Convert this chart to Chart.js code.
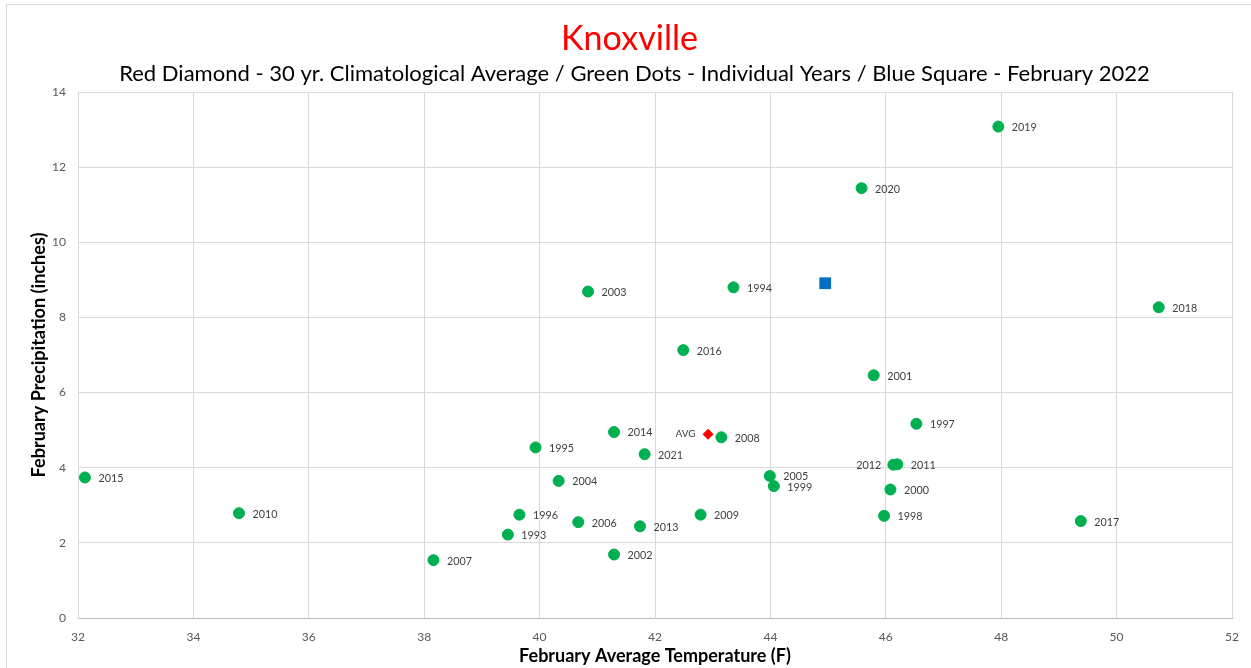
<!DOCTYPE html>
<html><head><meta charset="utf-8">
<script src="https://cdn.jsdelivr.net/npm/chart.js@4.4.1/dist/chart.umd.min.js"></script>
<style>html,body{margin:0;padding:0;background:#fff;}</style>
</head><body>
<canvas id="c" width="1251" height="668"></canvas>
<script>
// ---- data ----
const years  = ['2015','2010','2007','1993','1996','1995','2004','2006','2003','2014','2002','2013','2021','2016','2009','2008','1994','2005','1999','2020','2001','1998','2000','2012','2011','1997','2019','2017','2018'];
const temps  = [32.12,34.79,38.16,39.45,39.65,39.93,40.33,40.67,40.84,41.29,41.29,41.74,41.82,42.49,42.79,43.15,43.36,43.99,44.06,45.58,45.79,45.97,46.08,46.13,46.20,46.53,47.95,49.38,50.73];
const precip = [3.74,2.79,1.54,2.22,2.75,4.54,3.65,2.55,8.69,4.95,1.69,2.44,4.36,7.13,2.75,4.81,8.80,3.78,3.51,11.44,6.46,2.72,3.42,4.08,4.09,5.17,13.08,2.58,8.27];
const avgTemp = [42.92];
const avgPrecip = [4.89];
const avgLabel = ['AVG'];
const curTemp = [44.95];
const curPrecip = [8.91];
const xTickValues = [32,34,36,38,40,42,44,46,48,50,52];
const yTickValues = [0,2,4,6,8,10,12,14];
const titleText = 'Knoxville';
const subtitleText = 'Red Diamond - 30 yr. Climatological Average / Green Dots - Individual Years / Blue Square - February 2022';
const xTitle = 'February Average Temperature (F)';
const yTitle = 'February Precipitation (inches)';
const leftLabelYears = ['2012'];

// ---- font fitting ----
const FAMILY = 'Lato, "Open Sans", sans-serif';
const mctx = document.createElement('canvas').getContext('2d');
function fitSize(text, width, weight){ mctx.font = weight + ' 100px ' + FAMILY; return 100*width/mctx.measureText(text).width; }
const titleSize = fitSize(titleText, 137, 'normal');
const subSize = fitSize(subtitleText, 1031, 'normal');
const xTitleSize = fitSize(xTitle, 272, 'bold');
const yTitleSize = fitSize(yTitle, 245, 'bold');
const labelSize = fitSize('2015', 25, 'normal');
const avgSize = fitSize('AVG', 20, 'normal');
const tickSize = fitSize('32', 14, 'normal');

const yearPts = temps.map((t,i)=>({x:t, y:precip[i]}));
const avgPts = avgTemp.map((t,i)=>({x:t, y:avgPrecip[i]}));
const curPts = curTemp.map((t,i)=>({x:t, y:curPrecip[i]}));

const decor = {
  id:'decor',
  beforeDraw(chart){
    const ctx = chart.ctx;
    ctx.save();
    ctx.fillStyle='#fff'; ctx.fillRect(0,0,chart.width,chart.height);
    ctx.strokeStyle='#d9d9d9'; ctx.lineWidth=1;
    ctx.beginPath(); ctx.moveTo(6.5,668); ctx.lineTo(6.5,4.5); ctx.lineTo(1251,4.5); ctx.stroke();
    ctx.textAlign='center'; ctx.textBaseline='middle';
    ctx.fillStyle='#ff0000'; ctx.font = 'normal '+titleSize+'px '+FAMILY;
    ctx.fillText(titleText, 629.5, 39);
    ctx.fillStyle='#000000'; ctx.font = 'normal '+subSize+'px '+FAMILY;
    ctx.fillText(subtitleText, 634.5, 74);
    ctx.restore();
  },
  afterDatasetsDraw(chart){
    const ctx = chart.ctx;
    ctx.save();
    ctx.textBaseline='middle';
    ctx.fillStyle='#404040';
    ctx.font = 'normal '+labelSize+'px '+FAMILY;
    chart.getDatasetMeta(0).data.forEach((pt,i)=>{
      const lab = years[i];
      if (leftLabelYears.includes(lab)) { ctx.textAlign='right'; ctx.fillText(lab, pt.x-12, pt.y+1); }
      else { ctx.textAlign='left'; ctx.fillText(lab, pt.x+13.5, pt.y+1); }
    });
    ctx.font = 'normal '+avgSize+'px '+FAMILY;
    chart.getDatasetMeta(1).data.forEach((pt,i)=>{
      ctx.textAlign='right'; ctx.fillText(avgLabel[i], pt.x-12.5, pt.y);
    });
    ctx.restore();
  }
};

new Chart(document.getElementById('c'), {
  type:'scatter',
  data:{ datasets:[
    {label:'Individual Years', data:yearPts, pointStyle:'circle', pointRadius:5.5, pointHoverRadius:5.5, backgroundColor:'#00b050', borderColor:'#00b050', borderWidth:1},
    {label:'30 yr. Average', data:avgPts, pointStyle:'rectRot', pointRadius:5, pointHoverRadius:5, backgroundColor:'#ff0000', borderColor:'#ff0000', borderWidth:1},
    {label:'February 2022', data:curPts, pointStyle:'rect', pointRadius:8.3, pointHoverRadius:8.3, backgroundColor:'#0070c0', borderColor:'#0070c0', borderWidth:0}
  ]},
  options:{
    responsive:false, animation:false,
    layout:{padding:{left:0,right:15,top:92,bottom:0}},
    plugins:{legend:{display:false}, tooltip:{enabled:false}, title:{display:false}},
    scales:{
      x:{ type:'linear', min:32, max:52,
        afterBuildTicks(s){ s.ticks = xTickValues.map(v=>({value:v})); },
        afterFit(s){ s.height = 50; },
        grid:{color:'#d9d9d9', drawTicks:false},
        border:{color:'#bfbfbf'},
        ticks:{color:'#595959', font:{family:FAMILY, size:tickSize}, padding:12, maxRotation:0},
        title:{display:true, text:xTitle, color:'#000', font:{family:FAMILY, size:xTitleSize, weight:'bold'}, padding:{top:0,bottom:1}}
      },
      y:{ type:'linear', min:0, max:14,
        afterBuildTicks(s){ s.ticks = yTickValues.map(v=>({value:v})); },
        afterFit(s){ s.width = 78; },
        grid:{color:'#d9d9d9', drawTicks:false},
        border:{color:'#d9d9d9'},
        ticks:{color:'#595959', font:{family:FAMILY, size:tickSize}, padding:12},
        title:{display:true, text:yTitle, color:'#000', font:{family:FAMILY, size:yTitleSize, weight:'bold'}, padding:{top:28,bottom:0}}
      }
    }
  },
  plugins:[decor]
});
</script>
</body></html>
